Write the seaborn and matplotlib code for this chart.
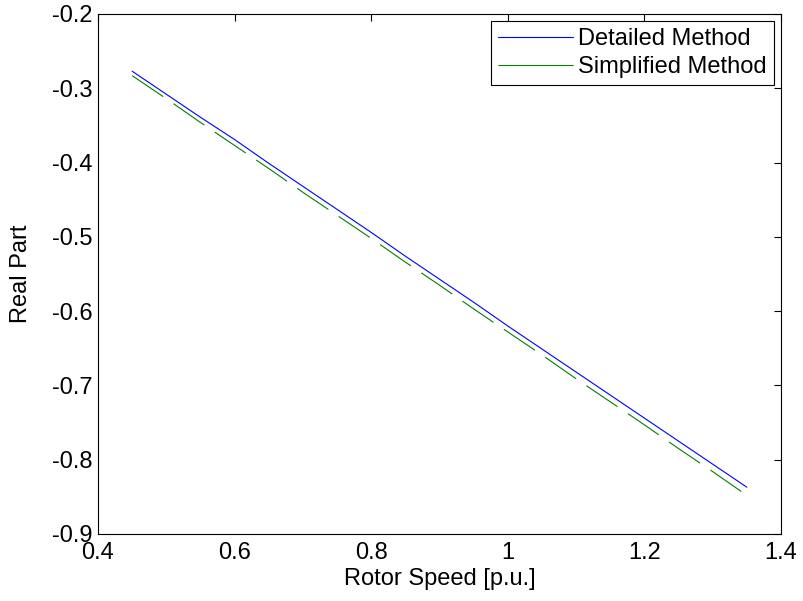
import matplotlib
matplotlib.use("Agg")
import matplotlib.pyplot as plt
import seaborn as sns
import pandas as pd

speed = [0.45, 0.50, 0.55, 0.60, 0.65, 0.70, 0.75, 0.80, 0.85, 0.90,
         0.95, 1.00, 1.05, 1.10, 1.15, 1.20, 1.25, 1.30, 1.35]
detailed = [-0.277, -0.308, -0.339, -0.369, -0.401, -0.432, -0.463, -0.494, -0.526, -0.557,
            -0.588, -0.620, -0.651, -0.682, -0.713, -0.744, -0.775, -0.806, -0.837]
simplified = [-0.283, -0.314, -0.346, -0.377, -0.408, -0.440, -0.471, -0.502, -0.534, -0.565,
              -0.597, -0.628, -0.659, -0.691, -0.722, -0.753, -0.785, -0.816, -0.848]
xticks = [0.4, 0.6, 0.8, 1.0, 1.2, 1.4]
yticks = [-0.9, -0.8, -0.7, -0.6, -0.5, -0.4, -0.3, -0.2]
xtick_labels = ["0.4", "0.6", "0.8", "1", "1.2", "1.4"]
ytick_labels = ["-0.9", "-0.8", "-0.7", "-0.6", "-0.5", "-0.4", "-0.3", "-0.2"]

sns.set_theme(style="white")
plt.rcParams['font.family'] = ['Liberation Sans', 'DejaVu Sans']
plt.rcParams['lines.scale_dashes'] = False
plt.rcParams['text.color'] = 'black'
plt.rcParams['axes.labelcolor'] = 'black'

df = pd.DataFrame({"speed": speed, "detailed": detailed, "simplified": simplified})

fig = plt.figure(figsize=(8.04, 6.01), dpi=100)
ax = fig.add_axes([98/804, 1-534/601, (781-98)/804, (534-14)/601])

sns.lineplot(data=df, x="speed", y="detailed", ax=ax, color="#0000ff", lw=0.8,
             label="Detailed Method")
sns.lineplot(data=df, x="speed", y="simplified", ax=ax, color="#008000", lw=0.8,
             label="Simplified Method", linestyle=(0, (27, 9)))

ax.set_xlim(0.4, 1.4)
ax.set_ylim(-0.9, -0.2)
ax.set_xticks(xticks)
ax.set_xticklabels(xtick_labels)
ax.set_yticks(yticks)
ax.set_yticklabels(ytick_labels)
fs = 17
ax.tick_params(direction="in", length=5, width=0.8, top=True, right=True,
               labelsize=fs, colors="black")
ax.tick_params(axis="y", pad=4)
ax.tick_params(axis="x", pad=6)
for s in ax.spines.values():
    s.set_color("black")
    s.set_linewidth(0.8)
ax.set_xlabel("Rotor Speed [p.u.]", fontsize=fs)
ax.set_ylabel("Real Part", fontsize=fs)
ax.xaxis.set_label_coords(0.5, -0.065)
ax.yaxis.set_label_coords(-0.097, 0.5)

leg = ax.legend(loc="upper right", fontsize=fs, frameon=True, fancybox=False,
                edgecolor="black", framealpha=1, borderaxespad=0.3,
                handlelength=3.2, handletextpad=0.2, borderpad=0.3, labelspacing=0.25)
leg.get_frame().set_linewidth(0.8)
for t in leg.get_texts():
    t.set_color("black")
leg.get_lines()[1].set_linestyle((0, (60, 9)))

fig.savefig("out.png", dpi=100)
